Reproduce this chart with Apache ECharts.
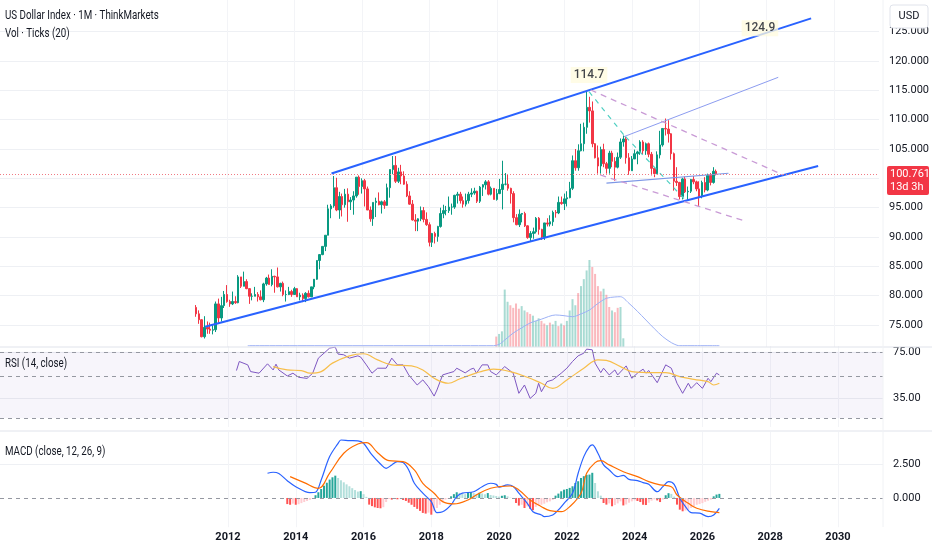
<!DOCTYPE html>
<html>
<head>
<meta charset="utf-8">
<script src="https://cdn.jsdelivr.net/npm/echarts@6/dist/echarts.min.js"></script>
<style>
  html, body { margin: 0; padding: 0; background: #fff; }
  #c { width: 932px; height: 550px; }
</style>
</head>
<body>
<div id="c"></div>
<script>
// month index: 0 = Jan 2011
const firstCandle = 1;
// [open, high, low, close], monthly, Feb 2011 -> Jul 2026
const ohlc = [
  [78.0,78.4,76.4,76.9],[76.9,77.5,75.2,75.9],[75.9,76.0,72.9,73.0],[73.0,76.5,72.7,74.6],
  [74.6,75.6,73.5,74.3],[74.3,75.4,73.5,74.1],[74.1,75.0,73.4,74.2],[74.2,79.0,73.8,78.6],
  [78.6,79.5,75.4,76.2],[76.2,79.8,75.6,78.3],[78.3,80.8,77.9,80.2],
  // 2012
  [80.2,81.8,78.8,79.0],[79.0,79.3,78.1,78.6],[78.6,80.7,78.4,79.0],[79.0,79.9,78.6,78.8],
  [78.8,83.5,78.7,83.2],[83.2,83.2,81.3,81.6],[81.6,84.1,81.6,82.4],[82.4,82.8,81.1,81.2],
  [81.2,81.3,78.6,79.9],[79.9,80.4,79.2,79.9],[79.9,81.5,79.9,80.2],[80.2,80.6,79.0,79.8],
  // 2013
  [79.8,80.9,79.2,79.3],[79.3,82.2,78.9,82.0],[82.0,83.2,81.7,83.0],[83.0,83.6,81.9,81.9],
  [81.9,84.5,81.6,83.3],[83.3,83.4,80.5,83.2],[83.2,84.8,81.4,81.5],[81.5,82.2,80.7,82.1],
  [82.1,82.4,79.9,80.2],[80.2,80.9,79.0,80.2],[80.2,81.5,80.1,80.7],[80.7,81.0,79.8,80.2],
  // 2014
  [80.2,81.5,80.2,81.2],[81.2,81.3,79.8,79.8],[79.8,80.5,79.2,80.1],[80.1,80.4,78.9,79.5],
  [79.5,80.6,78.9,80.4],[80.4,80.9,79.7,79.8],[79.8,81.5,79.8,81.5],[81.5,82.8,81.1,82.8],
  [82.8,86.0,82.7,86.0],[86.0,87.1,84.5,87.0],[87.0,88.4,86.9,88.4],[88.4,90.3,87.6,90.3],
  // 2015
  [90.3,95.5,90.3,94.8],[94.8,95.6,93.2,95.3],[95.3,100.4,95.0,98.4],[98.4,100.1,94.4,94.6],
  [94.6,97.7,93.1,96.9],[96.9,97.4,93.5,95.5],[95.5,98.2,95.0,97.3],[97.3,98.3,92.6,96.0],
  [96.0,96.8,94.6,96.3],[96.3,97.8,93.8,97.0],[97.0,100.2,96.7,100.2],[100.2,100.5,97.2,98.6],
  // 2016
  [98.6,100.0,97.4,99.6],[99.6,99.9,95.2,98.2],[98.2,98.6,94.6,94.6],[94.6,95.2,92.6,93.1],
  [93.1,95.9,91.9,95.9],[95.9,96.7,93.4,96.1],[96.1,97.6,95.4,95.5],[95.5,96.2,94.0,96.0],
  [96.0,96.3,94.8,95.4],[95.4,99.1,95.3,98.4],[98.4,101.5,96.7,101.5],[101.5,103.8,100.7,102.2],
  // 2017
  [102.2,103.8,99.2,99.5],[99.5,101.8,99.2,101.1],[101.1,102.3,99.0,100.4],[100.4,101.2,98.9,99.0],
  [99.0,99.5,96.8,97.0],[97.0,97.8,95.5,95.6],[95.6,96.3,92.8,92.9],[92.9,93.9,91.0,92.7],
  [92.7,93.2,91.0,93.1],[93.1,95.2,92.7,94.5],[94.5,95.1,92.5,93.0],[93.0,94.2,91.9,92.1],
  // 2018
  [92.1,92.5,88.4,89.1],[89.1,90.7,88.3,90.6],[90.6,90.9,88.9,90.1],[90.1,91.9,89.2,91.8],
  [91.8,95.0,91.6,94.0],[94.0,95.5,93.2,94.5],[94.5,95.3,93.7,94.5],[94.5,96.9,94.1,95.1],
  [95.1,95.7,93.8,95.1],[95.1,97.2,94.8,97.1],[97.1,97.7,95.7,97.3],[97.3,97.7,95.7,96.2],
  // 2019
  [96.2,96.9,95.0,95.6],[95.6,97.4,95.2,96.2],[96.2,97.7,95.7,97.3],[97.3,98.3,96.8,97.5],
  [97.5,98.4,97.2,97.8],[97.8,97.9,95.8,96.1],[96.1,98.7,95.8,98.5],[98.5,99.0,97.0,98.9],
  [98.9,99.7,98.1,99.4],[99.4,99.7,97.1,97.3],[97.3,98.6,97.1,98.3],[98.3,98.3,96.4,96.4],
  // 2020
  [96.4,98.2,96.2,97.4],[97.4,99.9,97.3,98.1],[98.1,103.0,94.7,99.0],[99.0,100.9,98.8,99.0],
  [99.0,100.6,97.9,98.3],[98.3,98.4,95.7,97.4],[97.4,97.8,92.5,93.3],[93.3,93.9,92.0,92.1],
  [92.1,94.7,91.7,93.9],[93.9,94.1,92.5,94.0],[94.0,94.3,91.7,91.9],[91.9,92.0,89.7,89.9],
  // 2021
  [89.9,91.0,89.2,90.6],[90.6,91.6,89.7,90.9],[90.9,93.4,90.6,93.2],[93.2,93.4,90.4,91.3],
  [91.3,91.4,89.5,90.0],[90.0,92.4,89.5,92.4],[92.4,93.2,91.8,92.2],[92.2,93.7,91.8,92.6],
  [92.6,94.5,91.9,94.2],[94.2,94.6,93.3,94.1],[94.1,96.9,93.9,95.9],[95.9,96.9,95.5,95.7],
  // 2022
  [95.7,97.4,94.6,96.5],[96.5,97.8,95.2,96.7],[96.7,99.4,96.6,98.3],[98.3,103.9,98.0,103.0],
  [103.0,105.0,101.3,101.8],[101.8,105.8,101.3,104.7],[104.7,109.3,104.6,105.9],[105.9,109.5,104.6,108.7],
  [108.7,114.8,107.6,112.1],[112.1,113.9,109.5,111.5],[111.5,113.1,105.3,105.9],[105.9,106.0,103.4,103.5],
  // 2023
  [103.5,105.6,100.8,102.1],[102.1,105.4,100.8,104.9],[104.9,105.9,101.9,102.5],[102.5,102.8,100.8,101.7],
  [101.7,104.7,100.8,104.3],[104.3,104.7,101.9,102.9],[102.9,103.6,99.6,101.9],[101.9,104.4,101.7,103.6],
  [103.6,106.8,103.3,106.2],[106.2,107.3,105.4,106.7],[106.7,107.1,102.5,103.5],[103.5,104.3,100.6,101.3],
  // 2024
  [101.3,103.8,101.3,103.3],[103.3,104.9,103.3,104.2],[104.2,104.7,102.4,104.5],[104.5,106.5,104.0,106.2],
  [106.2,106.5,104.1,104.7],[104.7,106.1,104.0,105.9],[105.9,106.1,103.6,104.1],[104.1,104.5,100.5,101.7],
  [101.7,101.9,100.2,100.8],[100.8,104.6,100.7,104.0],[104.0,108.1,103.4,105.7],[105.7,108.5,105.4,108.5],
  // 2025
  [108.5,110.2,107.3,108.4],[108.4,109.9,106.1,107.6],[107.6,107.7,103.2,104.2],[104.2,104.4,97.9,99.5],
  [99.5,101.9,98.7,99.3],[99.3,99.4,96.4,96.9],[96.9,100.1,96.4,99.9],[99.9,100.3,97.5,97.7],
  [97.7,98.6,96.2,97.8],[97.8,99.9,97.5,99.8],[99.8,100.4,99.0,99.4],[99.4,99.6,97.8,98.2],
  // 2026
  [98.2,99.5,95.3,96.9],[96.9,99.6,96.6,99.3],[99.3,100.2,97.6,98.0],[98.0,100.8,97.8,100.5],
  [100.5,100.9,98.8,99.3],[99.3,101.9,99.1,101.2],[101.2,101.5,100.5,100.761]
];
const lastPrice = 100.761;
const lastTag = '13d 3h';

// tick volume, months 107..152
const volStart = 107;
const volume = [12,15,18,66,52,48,45,50,44,47,42,40,38,36,30,33,30,27,25,28,26,30,24,27,25,30,
  42,55,48,62,70,78,88,100,92,84,70,64,67,60,46,42,40,45,46,10];
const volMA = [[19,1.5],[106,1.5],[108,3],[110,8],[113,16],[116,22],[119,27.6],[123,32],[128,36.8],
  [131,36],[134,34.8],[137,38],[140,42.5],[143,50],[146,56],[149,57.5],[151,57.8],[154,50.2],
  [157,41],[160,31],[163,21],[166,11.8],[169,5],[171,2],[172,1.5],[186,1.5]];

// RSI (14) and its MA
const rsi = [[15,58.8],[16,66.6],[19,63.7],[20,57.9],[23,56.5],[26,64.6],[28,59.3],[29,64.3],[30,59.3],
  [33,54.1],[35,56.5],[37,53],[40,52],[42,56.5],[44,69.5],[46,73.8],[48,78.2],[50,79],[51,73],[53,72.4],
  [55,69.5],[58,71.5],[59,70.4],[61,63.7],[63,56.5],[65,60.8],[68,60.8],[70,69.5],[72,63.7],[74,63.7],
  [76,55],[79,46.3],[81,50.7],[83,44.8],[85,36.7],[86,42],[88,55],[90,56.5],[92,57.9],[93,60.8],
  [96,56.8],[98,60],[99,60.8],[100,56.5],[102,63.7],[104,63.7],[105,57.9],[107,55],[110,62.2],[113,56.5],
  [115,39.1],[117,46.3],[119,34.7],[121,39.1],[122,47.8],[123,40.5],[125,49.2],[127,50.7],[130,56.5],
  [132,60.8],[134,66.6],[136,71.5],[138,73.8],[139,77.3],[141,76.7],[142,65.2],[144,57],[145,60.8],
  [147,55],[149,59.3],[150,55],[153,62.8],[155,52.1],[157,56.5],[159,60],[160,56.5],[161,58.8],
  [164,48.3],[167,63.7],[169,60.8],[171,47.8],[173,39.1],[175,47.8],[176,43.4],[178,48.3],[180,43.4],
  [182,52.1],[183,49.2],[185,56.5],[186,55]];
const rsiMA = [[28,62.2],[33,59.3],[38,58.8],[41,56.5],[45,57.9],[49,65.2],[55,71.5],[60,73.3],[65,68],
  [70,63.7],[77,62.8],[81,59.3],[85,52.1],[90,47.8],[94,51.5],[98,55],[101,57.5],[106,60],[112,57.9],
  [118,53],[123,47.8],[127,43.4],[132,50.7],[138,60.8],[143,68],[146,67.5],[151,62.2],[155,57.9],
  [163,57],[167,57],[172,53.5],[177,51.2],[182,49.2],[184,46.3],[186,47.8]];
const rsiBands = [75, 54.1, 17.8];
const rsiTicks = [35, 75];

// MACD (12, 26, 9)
const macd = [[26,1.82],[28,1.89],[30,1.8],[33,1.27],[36,0.83],[41,0.39],[43,0.42],[45,1.32],[48,3.04],
  [51,4.02],[52,4.26],[55,4.22],[58,4.2],[60,4.02],[63,3.16],[66,2.5],[68,2.18],[70,2.43],[72,2.67],
  [74,2.6],[76,2.06],[78,1.08],[81,0.35],[84,-0.27],[86,-1.08],[88,-1.02],[91,-0.51],[93,0.1],[95,0.35],
  [99,0.46],[102,0.83],[105,1.08],[107,1.0],[108,0.79],[111,0.96],[113,0.85],[115,0.35],[118,-0.39],
  [120,-1.01],[123,-1.25],[124,-1.37],[127,-1.25],[129,-0.88],[131,-0.39],[134,0.35],[136,1.82],
  [138,3.04],[140,3.77],[141,3.9],[143,3.29],[145,2.43],[147,2.06],[150,1.57],[152,1.66],[154,1.37],
  [157,1.28],[159,1.13],[161,1.0],[164,0.46],[166,0.83],[168,1.2],[170,1.0],[172,-0.02],[174,-0.64],
  [176,-1.08],[179,-1.12],[182,-1.37],[184,-1.25],[186,-0.76]];
const signal = [[34,1.57],[39,1.13],[44,0.71],[48,1.82],[53,3.29],[58,3.97],[61,4.07],[65,3.33],[69,2.74],
  [74,2.67],[78,2.06],[81,1.08],[85,0.35],[88,-0.27],[92,-0.44],[97,-0.15],[101,0.35],[105,0.71],
  [108,0.83],[112,0.88],[115,0.59],[119,-0.15],[123,-0.64],[126,-0.93],[130,-1.01],[133,-0.64],
  [137,0.35],[139,1.82],[142,2.6],[144,2.74],[147,2.43],[152,1.93],[157,1.57],[161,1.2],[165,0.96],
  [169,0.83],[171,0.22],[175,-0.39],[178,-0.76],[183,-1.01],[186,-1.08]];
const histStart = 33;
const hist = [-0.45,-0.50,-0.42,-0.50,-0.46,-0.38,-0.30,-0.22,-0.14,-0.06,
  0.20,0.42,0.66,0.90,1.12,1.35,1.52,1.64,1.47,1.30,
  1.15,1.00,0.86,0.72,0.58,0.47,0.50,0.28,0.08,-0.49,
  -0.60,-0.69,-0.74,-0.76,-0.68,-0.30,-0.08,-0.12,-0.05,-0.10,
  -0.06,-0.15,-0.22,-0.35,-0.50,-0.66,-0.80,-0.95,-1.10,-1.15,
  -1.08,-1.23,-0.98,-0.74,-0.50,-0.30,-0.12,-0.05,0.12,0.28,
  0.42,0.37,0.32,0.28,0.40,0.44,0.36,0.30,0.38,0.33,
  0.27,0.36,0.22,0.18,0.14,0.10,0.16,0.20,0.12,0.02,
  -0.03,-0.37,-0.56,-0.50,-0.74,-0.62,-0.80,-0.90,-0.66,-0.55,
  -0.50,-0.42,-0.32,-0.25,-0.15,0.17,0.32,0.49,0.61,0.66,
  0.74,0.86,1.10,1.23,1.47,1.60,1.70,1.72,1.85,1.10,
  0.49,0.17,-0.37,-0.49,-0.40,-0.61,-0.52,-0.40,-0.25,-0.55,
  -0.48,-0.35,-0.25,-0.18,-0.22,-0.30,-0.50,-0.52,-0.35,-0.20,
  -0.10,-0.18,-0.30,-0.12,0.20,0.35,0.30,0.10,-0.49,-0.86,
  -0.98,-0.92,-0.86,-0.74,-0.62,-0.50,-0.45,-0.38,-0.28,-0.20,
  -0.12,0.12,0.25,0.30];
const macdTicks = [0, 2.5];

// drawings, in [month, price]
const channelTop = [[49.2,100.83],[219.8,127.27]];
const channelBottom = [[4.2,74.69],[222.3,102.11]];
const innerTop = [[153.2,107.1],[208.1,117.22]];
const neckline = [[147.0,99.17],[190.4,100.87]];
const dashUpper = [[141.4,115.06],[209.8,100.6]];
const dashLower = [[144.8,100.58],[196.9,92.62]];
const tealA = [[140.8,114.77],[153.2,107.4]];
const tealB = [[153.8,107.1],[175.6,96.03]];
const notes = [{text:'114.7', at:[140.8,117.6]}, {text:'124.9', at:[201.6,125.6]}];

const priceTicks = [75,80,85,90,95,100,105,110,115,120,125];
const yearTicks = [12,36,60,84,108,132,156,180,204,228];

const FONT = '"Roboto","Noto Sans",sans-serif';
const TXT = '#131722';
const UP = '#089981', DOWN = '#F23645';
const xMin = -68.73, xMax = 243.95;

const candles = ohlc.map((d, i) => [firstCandle + i, d[0], d[3], d[2], d[1]]);
const isUp = (m) => { const d = ohlc[m - firstCandle]; return d && d[3] >= d[0]; };

const grids = [
  { left: 0, right: 49, top: 0, height: 347 },
  { left: 0, right: 49, top: 260, height: 87 },
  { left: 0, right: 49, top: 346, height: 81 },
  { left: 0, right: 49, top: 432, height: 95.2 }
];

const xAxes = grids.map((g, i) => ({
  type: 'value', gridIndex: i, min: xMin, max: xMax,
  axisLine: { show: false },
  axisTick: { show: false, customValues: yearTicks },
  axisLabel: i === 3
    ? { customValues: yearTicks, formatter: (v) => String(2011 + Math.round(v / 12)),
        color: TXT, fontSize: 11, fontWeight: 'bold', fontFamily: FONT, margin: 5 }
    : { show: false },
  splitLine: { show: i !== 1, lineStyle: { color: '#f3f4f7' } }
}));

const sideLabel = (ticks, digits) => ({
  customValues: ticks, formatter: (v) => v.toFixed(digits),
  color: TXT, fontSize: 11, fontFamily: FONT, margin: 10, align: 'left'
});

const yAxes = [
  { type: 'value', gridIndex: 0, position: 'right', min: 71.25, max: 130.40,
    axisLine: { show: false }, axisTick: { show: false, customValues: priceTicks },
    axisLabel: sideLabel(priceTicks, 3), splitLine: { lineStyle: { color: '#eef0f4' } } },
  { type: 'value', gridIndex: 1, min: 0, max: 100, show: false },
  { type: 'value', gridIndex: 2, position: 'right', min: 10, max: 80,
    axisLine: { show: false }, axisTick: { show: false, customValues: rsiTicks },
    axisLabel: sideLabel(rsiTicks, 2), splitLine: { lineStyle: { color: '#eceef2' } } },
  { type: 'value', gridIndex: 3, position: 'right', min: -2.15, max: 4.85,
    axisLine: { show: false }, axisTick: { show: false, customValues: [2.5] },
    axisLabel: sideLabel(macdTicks, 3), splitLine: { lineStyle: { color: '#eef0f4' } } }
];

function drawing(points, color, width, type) {
  return { type: 'line', xAxisIndex: 0, yAxisIndex: 0, data: points, symbol: 'none', silent: true,
    lineStyle: { color, width, type: type || 'solid' }, z: 4 };
}

const series = [
  { type: 'bar', xAxisIndex: 1, yAxisIndex: 1, barWidth: 2, silent: true,
    data: volume.map((v, k) => ({ value: [volStart + k, v],
      itemStyle: { color: isUp(volStart + k) ? 'rgba(8,153,129,0.35)' : 'rgba(242,54,69,0.35)' } })) },
  { type: 'line', xAxisIndex: 1, yAxisIndex: 1, data: volMA, symbol: 'none', smooth: 0.3,
    lineStyle: { color: '#9db1f5', width: 1 } },
  { type: 'candlestick', xAxisIndex: 0, yAxisIndex: 0, data: candles, encode: { x: 0, y: [1, 2, 3, 4] },
    barWidth: 2, z: 3,
    itemStyle: { color: UP, color0: DOWN, borderColor: UP, borderColor0: DOWN, borderWidth: 1 },
    markLine: { symbol: 'none', silent: true, label: { show: false },
      lineStyle: { color: '#f07a84', type: [1, 2], width: 1 }, data: [{ yAxis: lastPrice }] } },
  drawing(channelTop, '#2962FF', 2),
  drawing(channelBottom, '#2962FF', 2),
  drawing(innerTop, '#8c9cf0', 1),
  drawing(neckline, '#7d97e6', 1.2),
  drawing(dashUpper, '#c99bd6', 1.3, [6, 5]),
  drawing(dashLower, '#c99bd6', 1.3, [6, 5]),
  drawing(tealA, '#4fcfc2', 1.2, [5, 5]),
  drawing(tealB, '#4fcfc2', 1.2, [5, 5]),
  { type: 'scatter', xAxisIndex: 0, yAxisIndex: 0, symbolSize: 2, z: 6,
    itemStyle: { color: 'rgba(0,0,0,0)' },
    data: notes.map((n) => ({ value: n.at, label: { formatter: n.text } })),
    label: { show: true, position: 'inside', color: TXT, fontSize: 12, fontWeight: 500, fontFamily: FONT,
      backgroundColor: 'rgba(255,251,222,0.95)', padding: [2, 3] } },
  { type: 'line', xAxisIndex: 2, yAxisIndex: 2, data: rsi, symbol: 'none',
    lineStyle: { color: '#7E57C2', width: 1 },
    markArea: { silent: true, itemStyle: { color: 'rgba(126,87,194,0.06)' },
      data: [[{ yAxis: rsiBands[2] }, { yAxis: rsiBands[0] }]] },
    markLine: { symbol: 'none', silent: true, label: { show: false },
      lineStyle: { color: '#9598a1', type: [4, 4], width: 1 }, data: rsiBands.map((v) => ({ yAxis: v })) } },
  { type: 'line', xAxisIndex: 2, yAxisIndex: 2, data: rsiMA, symbol: 'none', smooth: 0.4,
    lineStyle: { color: '#F7BE4A', width: 1.2 } },
  { type: 'bar', xAxisIndex: 3, yAxisIndex: 3, barWidth: 2, silent: true,
    data: hist.map((v, k) => {
      const prev = k > 0 ? hist[k - 1] : v;
      const color = v >= 0 ? (v >= prev ? '#26A69A' : '#B2DFDB') : (v <= prev ? '#FF5252' : '#FFCDD2');
      return { value: [histStart + k, v], itemStyle: { color } };
    }),
    markLine: { symbol: 'none', silent: true, label: { show: false },
      lineStyle: { color: '#9598a1', type: [4, 4], width: 1 }, data: [{ yAxis: 0 }] } },
  { type: 'line', xAxisIndex: 3, yAxisIndex: 3, data: macd, symbol: 'none', smooth: 0.35,
    lineStyle: { color: '#2962FF', width: 1.2 } },
  { type: 'line', xAxisIndex: 3, yAxisIndex: 3, data: signal, symbol: 'none', smooth: 0.4,
    lineStyle: { color: '#FF6D00', width: 1.2 } }
];

const chart = echarts.init(document.getElementById('c'));
chart.setOption({
  animation: false,
  backgroundColor: '#ffffff',
  grid: grids,
  xAxis: xAxes,
  yAxis: yAxes,
  series
});

// overlay: pane titles, separators, currency box and last-price tag
const tagY = chart.convertToPixel({ yAxisIndex: 0 }, lastPrice);
const text = (x, y, s, size) => ({ type: 'text', x, y, scaleX: 0.75,
  style: { text: s, fill: TXT, font: `${size}px ${FONT}`, textVerticalAlign: 'middle' }, z: 20 });
chart.setOption({
  graphic: [
    text(5, 16, 'US Dollar Index · 1M · ThinkMarkets', 13),
    text(5, 34, 'Vol · Ticks (20)', 13),
    text(5, 364, 'RSI (14, close)', 13),
    text(5, 452, 'MACD (close, 12, 26, 9)', 13),
    { type: 'line', shape: { x1: 0, y1: 347, x2: 932, y2: 347 }, style: { stroke: '#e0e3eb', lineWidth: 1 }, z: 15 },
    { type: 'line', shape: { x1: 0, y1: 431, x2: 932, y2: 431 }, style: { stroke: '#e0e3eb', lineWidth: 1 }, z: 15 },
    { type: 'line', shape: { x1: 883, y1: 0, x2: 883, y2: 527 }, style: { stroke: '#f0f2f5', lineWidth: 1 }, z: 15 },
    { type: 'rect', shape: { x: 890, y: 5, width: 38, height: 23, r: 3 },
      style: { fill: '#fff', stroke: '#e0e3eb', lineWidth: 1 }, z: 20 },
    { type: 'text', x: 909, y: 16.5, style: { text: 'USD', fill: TXT, font: `11px ${FONT}`,
      textAlign: 'center', textVerticalAlign: 'middle' }, z: 21 },
    { type: 'rect', shape: { x: 887, y: tagY - 8, width: 42, height: 29, r: 2 },
      style: { fill: DOWN }, z: 20 },
    { type: 'text', x: 890, y: tagY, style: { text: lastPrice.toFixed(3), fill: '#fff',
      font: `11px ${FONT}`, textVerticalAlign: 'middle' }, z: 21 },
    { type: 'text', x: 890, y: tagY + 13, style: { text: lastTag, fill: '#fff',
      font: `11px ${FONT}`, textVerticalAlign: 'middle' }, z: 21 }
  ]
});
</script>
</body>
</html>
